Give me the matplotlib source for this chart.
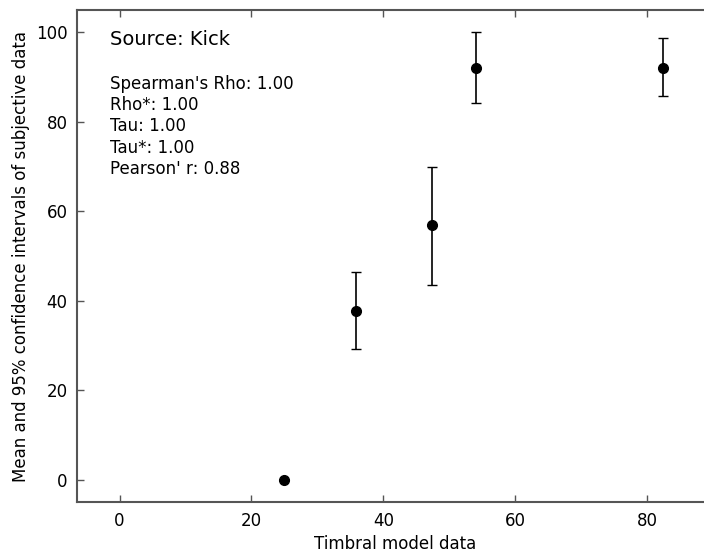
import numpy as np
import matplotlib
matplotlib.use("Agg")
import matplotlib.pyplot as plt

# model values (x) vs subjective means (y) with 95% CI bounds
model = [25.0, 35.9, 47.3, 54.0, 82.4]
mean = [0.0, 37.8, 56.9, 92.1, 92.1]
ci_low = [0.0, 29.1, 43.6, 84.2, 85.7]
ci_high = [0.0, 46.5, 70.0, 100.1, 98.8]

source = "Kick"
stats = [("Spearman's Rho", 1.00), ("Rho*", 1.00), ("Tau", 1.00),
         ("Tau*", 1.00), ("Pearson' r", 0.88)]

# ── Figure ────────────────────────────────────────────────────────────────────
fig = plt.figure(figsize=(7.04, 5.54), dpi=100)
ax = fig.add_axes([0.1098, 0.0939, 0.9032, 0.888])

mean = np.array(mean)
yerr = [mean - np.array(ci_low), np.array(ci_high) - mean]
ax.errorbar(model, mean, yerr=yerr, fmt="o", color="black", markersize=7,
            elinewidth=1.2, capsize=3.5, capthick=1.0)

ax.set_xlim(-6.4, 90)
ax.set_ylim(-5, 105)
ax.set_xticks([0, 20, 40, 60, 80])
ax.set_yticks([0, 20, 40, 60, 80, 100])
ax.tick_params(direction="in", top=True, right=True, length=5,
               width=1, color="#555555", labelsize=12, pad=7)
for s in ax.spines.values():
    s.set_color("#555555")
    s.set_linewidth(1.5)

ax.set_xlabel("Timbral model data", fontsize=12)
ax.set_ylabel("Mean and 95% confidence intervals of subjective data", fontsize=12)

ax.text(-1.4, 100.6, f"Source: {source}", fontsize=14, va="top", ha="left")
lines = "\n".join(f"{name}: {val:.2f}" for name, val in stats)
ax.text(-1.4, 90.4, lines, fontsize=12, va="top", ha="left", linespacing=1.22)

fig.savefig("out.png", dpi=100)
